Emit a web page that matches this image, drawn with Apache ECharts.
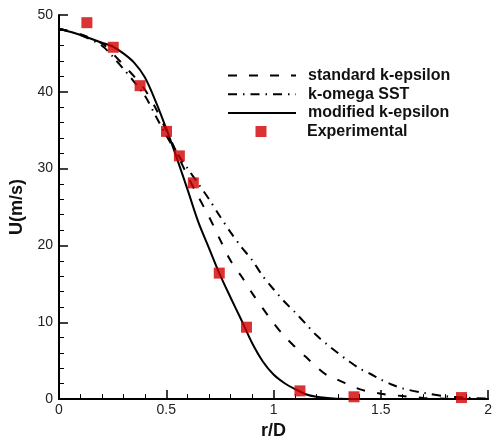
<!DOCTYPE html>
<html><head><meta charset="utf-8">
<script src="https://cdn.jsdelivr.net/npm/echarts@6/dist/echarts.min.js"></script>
<style>html,body{margin:0;padding:0;background:#fff}#c{width:495px;height:445px}</style>
</head><body><div id="c"></div>
<script>
var xStd = [0,0.1,0.2,0.25,0.3,0.35,0.4,0.45,0.5,0.55,0.6,0.65,0.7,0.75,0.8,0.85,0.9,0.95,1.0,1.05,1.1,1.15,1.2,1.25,1.3,1.4,1.5,1.6,1.7,1.8,1.9,2.0];
var yStd = [48.2,47.5,46.3,45.0,43.5,42.0,40.3,37.9,35.0,32.0,29.0,26.3,23.7,20.8,18.0,16.0,13.8,11.8,9.9,8.2,6.8,5.5,4.2,3.1,2.5,1.3,0.7,0.4,0.15,0.05,0.02,0];
var xSST = [0,0.1,0.2,0.25,0.3,0.35,0.4,0.45,0.5,0.55,0.6,0.65,0.7,0.75,0.8,0.85,0.9,0.95,1.0,1.05,1.1,1.15,1.2,1.25,1.3,1.35,1.4,1.45,1.5,1.55,1.6,1.7,1.8,1.9,2.0];
var ySST = [48.2,47.4,46.0,44.6,43.0,41.3,39.5,36.9,34.3,32.0,30.0,28.0,26.0,23.8,21.7,19.8,18.1,16.0,14.3,12.7,11.3,9.8,8.3,7.1,6.0,4.95,4.0,3.3,2.55,1.9,1.4,0.8,0.38,0.18,0.08];
var xMod = [0,0.1,0.2,0.25,0.3,0.35,0.4,0.45,0.5,0.55,0.6,0.65,0.7,0.75,0.8,0.85,0.9,0.95,1.0,1.05,1.1,1.15,1.2,1.25,1.3,1.4,1.6,1.8,2.0];
var yMod = [48.2,47.4,46.4,45.9,45.0,43.8,41.9,38.8,35.2,31.3,27.2,23.0,19.6,16.2,13.2,10.3,7.3,4.9,3.2,2.1,1.3,0.64,0.3,0.15,0.05,0,0,0,0];
var xExp = [0.13,0.253,0.378,0.501,0.561,0.626,0.747,0.874,1.123,1.375,1.876];
var yExp = [49.0,45.8,40.8,34.85,31.66,28.15,16.4,9.36,1.07,0.3,0.2];
var names = ['standard k-epsilon','k-omega SST','modified k-epsilon','Experimental'];
var xTicks = [0,0.5,1,1.5,2];
var yTicks = [0,10,20,30,40,50];

function pairs(xs, ys){ return xs.map(function(x,i){return [x, ys[i]];}); }

var chart = echarts.init(document.getElementById('c'), null, {renderer:'canvas'});
var font = 'Liberation Sans, Arial, sans-serif';
var legText = {fontFamily:font,fontWeight:'bold',fontSize:16,color:'#111',lineHeight:16};
chart.setOption({
  animation:false,
  backgroundColor:'#fff',
  grid:{left:59,right:5,top:15,bottom:38,containLabel:false},
  legend:[{
    orient:'vertical', left:227, top:67.5, padding:0,
    itemWidth:68, itemHeight:11, itemGap:2.7,
    data:[{name:names[0],itemStyle:{opacity:0}},{name:names[1],itemStyle:{opacity:0}},{name:names[2],itemStyle:{opacity:0}}],
    textStyle:Object.assign({padding:[0,0,0,7]},legText)
  },{
    orient:'vertical', left:255.5, top:123.5, padding:0,
    itemWidth:11, itemHeight:11,
    data:[{name:names[3],icon:'rect'}],
    textStyle:Object.assign({padding:[0,0,0,35.5]},legText)
  }],
  xAxis:{
    type:'value', min:0, max:2, interval:0.5,
    name:'r/D', nameLocation:'middle', nameGap:19,
    nameTextStyle:{fontFamily:font,fontWeight:'bold',fontSize:18,color:'#111'},
    axisLine:{onZero:false,lineStyle:{color:'#000',width:2}},
    axisTick:{inside:true,length:9,lineStyle:{color:'#000',width:1.5}},
    minorTick:{show:true,splitNumber:5,length:5,lineStyle:{color:'#000',width:1}},
    axisLabel:{fontFamily:font,fontSize:14,color:'#222',margin:4,
      formatter:function(v){return xTicks.indexOf(v)>=0?String(v):'';}},
    splitLine:{show:false}
  },
  yAxis:{
    type:'value', min:0, max:50, interval:10,
    name:'U(m/s)', nameLocation:'middle', nameGap:33,
    nameTextStyle:{fontFamily:font,fontWeight:'bold',fontSize:18,color:'#111'},
    axisLine:{show:true,onZero:false,lineStyle:{color:'#000',width:2}},
    axisTick:{show:true,inside:true,length:9,lineStyle:{color:'#000',width:1.5}},
    minorTick:{show:true,splitNumber:5,length:5,lineStyle:{color:'#000',width:1}},
    axisLabel:{fontFamily:font,fontSize:14,color:'#222',margin:6,
      formatter:function(v){return yTicks.indexOf(v)>=0?String(v):'';}},
    splitLine:{show:false}
  },
  series:[
    {name:names[0],type:'line',data:pairs(xStd,yStd),showSymbol:false,
     smooth:0.3,
     lineStyle:{color:'#000',width:2,type:[9,12]},itemStyle:{color:'#000'}},
    {name:names[1],type:'line',data:pairs(xSST,ySST),showSymbol:false,
     smooth:0.3,
     lineStyle:{color:'#000',width:2,type:[9,6,1.5,6]},itemStyle:{color:'#000'}},
    {name:names[2],type:'line',data:pairs(xMod,yMod),showSymbol:false,
     smooth:0.3,
     lineStyle:{color:'#000',width:2,type:'solid'},itemStyle:{color:'#000'}},
    {name:names[3],type:'scatter',data:pairs(xExp,yExp),symbol:'rect',symbolSize:11,
     itemStyle:{color:'#d00000'},z:5}
  ]
});
</script></body></html>
